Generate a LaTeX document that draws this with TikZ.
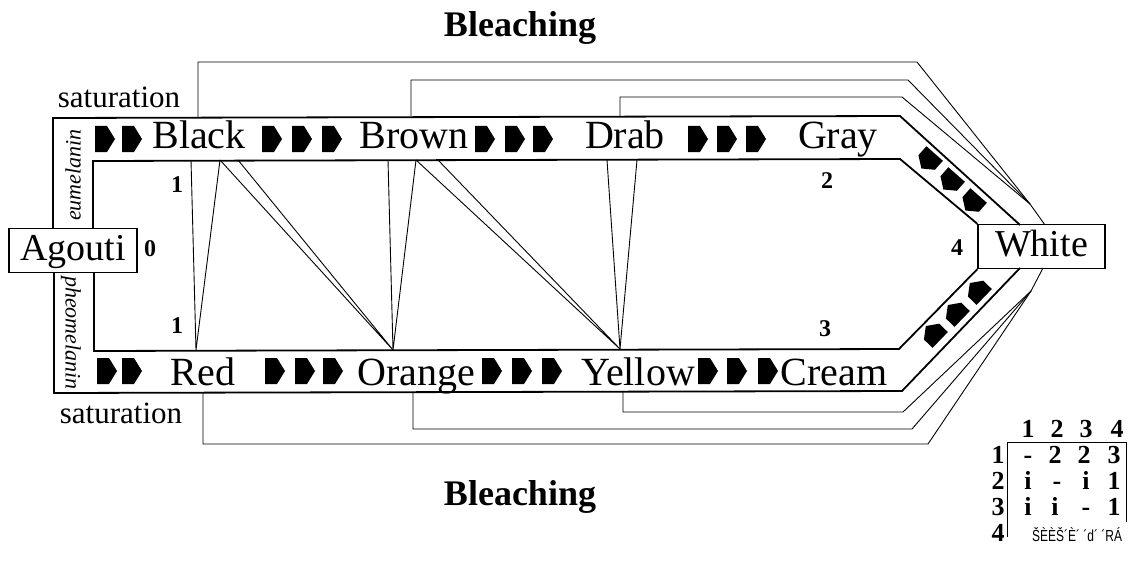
\documentclass[tikz,border=0pt]{standalone}
\usepackage{fontspec}
\usepackage{graphicx}
\setmainfont{Liberation Serif}
\newfontfamily\garblefont{Liberation Sans}
\begin{document}
\begin{tikzpicture}[x=1pt,y=-1pt,
  band/.style={line width=1.8pt},
  fine/.style={line width=0.9pt},
  cname/.style={font=\fontsize{40}{44}\selectfont, anchor=base, inner sep=0pt},
  num/.style={font=\bfseries\fontsize{24}{26}\selectfont, inner sep=0pt},
  mat/.style={font=\bfseries\fontsize{26}{28}\selectfont, inner sep=0pt, anchor=base},
  box/.style={draw, line width=1.3pt, font=\fontsize{38}{42}\selectfont, text height=27pt, text depth=8pt, inner sep=0pt, minimum height=44pt},
  sat/.style={font=\fontsize{31}{34}\selectfont, anchor=base, inner sep=0pt},
  melan/.style={font=\itshape\fontsize{22}{24}\selectfont, inner sep=0pt},
  bleach/.style={font=\bfseries\fontsize{36}{40}\selectfont, anchor=base, inner sep=0pt},
  arrowblk/.pic={\fill (-10,-13) -- (2,-13) -- (10,0) -- (2,13) -- (-10,13) -- cycle;},
  arrowdiag/.pic={\fill (-10,-11) -- (2,-11) -- (10,0) -- (2,11) -- (-10,11) -- cycle;}
]
\useasboundingbox (0,0) rectangle (1137,567);

% boxes
\node[box, minimum width=128pt] (agouti) at (73,250.5) {Agouti};
\node[box, minimum width=127pt] (white) at (1041.5,246.5) {White};

% bands
\draw[band] (53,228) -- (53,118) -- (900,116) -- (1020,225);
\draw[band] (93,228) -- (93,161) -- (900,159) -- (white.north west);
\draw[band] (54,273) -- (54,393) -- (902,391) -- (1020,268);
\draw[band] (94,273) -- (94,351) -- (899,349) -- (white.south west);

% bleaching connectors
\coordinate (ct) at (1030,204);
\coordinate (cb) at (1031,291);
\coordinate (wt) at (1045,225);
\coordinate (wb) at (1043,268);
\draw[fine] (198,117) -- (198,62) -- (917,62) -- (ct);
\draw[fine] (411,116) -- (411,80) -- (908,80) -- (ct);
\draw[fine] (620,116) -- (620,97) -- (902,97) -- (ct);
\draw[fine] (ct) -- (wt);
\draw[fine] (203,392) -- (203,444) -- (928,444) -- (cb);
\draw[fine] (413,392) -- (413,429) -- (912,429) -- (cb);
\draw[fine] (623,391) -- (623,412) -- (903,412) -- (cb);
\draw[fine] (cb) -- (wb);

% triangle connectors
\draw[fine] (191,160) -- (196,350) -- (220,160);
\draw[fine] (220,160) -- (393,350) (238,160) -- (393,350);
\draw[fine] (388,160) -- (393,350) -- (416,160);
\draw[fine] (416,160) -- (620,349) (438,160) -- (620,349);
\draw[fine] (607,160) -- (620,349) -- (637,160);

% colour names
\node[cname] (black) at (199,148) {Black};
\node[cname] (brown) at (414,148) {Brown};
\node[cname] (drab) at (625,148) {Drab};
\node[cname] (gray) at (838,148) {Gray};
\node[cname] (red) at (203,385) {Red};
\node[cname] (orange) at (416,385) {Orange};
\node[cname] (yellow) at (638,385) {Yellow};
\node[cname] (cream) at (834,385) {Cream};

% arrows
\foreach \x in {105,132,272,302,332,485,515,543,698,727,756}
  \pic at (\x,139) {arrowblk};
\foreach \x in {107,132,275,305,333,492,522,552,708,737,768}
  \pic at (\x,371) {arrowblk};
\foreach \p in {(928,161),(950,182),(972,203)}
  \pic[rotate=-131.5] at \p {arrowdiag};
\foreach \p in {(933,333),(955,312),(977,290)}
  \pic[rotate=136] at \p {arrowdiag};

% numbers
\node[num] (n0) at (150,249) {0};
\node[num] (n1a) at (177,185) {1};
\node[num] (n1b) at (177,326) {1};
\node[num] (n2) at (827,181) {2};
\node[num] (n3) at (825,329) {3};
\node[num] (n4) at (957,248) {4};

% labels
\node[sat] (sat1) at (119,108) {saturation};
\node[sat] (sat2) at (121,423) {saturation};
\node[melan, rotate=90] (eu) at (73,175) {eumelanin};
\node[melan, rotate=-90] (pheo) at (71,333) {pheomelanin};
\node[bleach] (bl1) at (520,37) {Bleaching};
\node[bleach] (bl2) at (520,505) {Bleaching};

% matrix
\draw[fine] (1126,522) -- (1126,442) -- (1007,442) -- (1007,537);
\foreach \c/\x in {1/1028,2/1057,3/1086,4/1117}
  \node[mat] (h\c) at (\x,437.5) {\c};
\foreach \r/\y in {1/463.5,2/489.5,3/515.5,4/541.5}
  \node[mat] (r\r) at (998,\y) {\r};
\foreach \t/\x [count=\i] in {-/1028,2/1055,2/1084,3/1114}
  \node[mat] (ma\i) at (\x,463.5) {\t};
\foreach \t/\x [count=\i] in {i/1028,-/1057,i/1086,1/1114}
  \node[mat] (mb\i) at (\x,489.5) {\t};
\foreach \t/\x [count=\i] in {i/1028,i/1055,-/1086,1/1114}
  \node[mat] (mc\i) at (\x,515.5) {\t};
\node[inner sep=0pt, anchor=base, font=\garblefont\fontsize{16}{18}\selectfont] (garb) at (1077,541.5) {\scalebox{0.75}[1]{ŠÈÈŠ´È´ ´d´ ´RÁ}};
\end{tikzpicture}
\end{document}
